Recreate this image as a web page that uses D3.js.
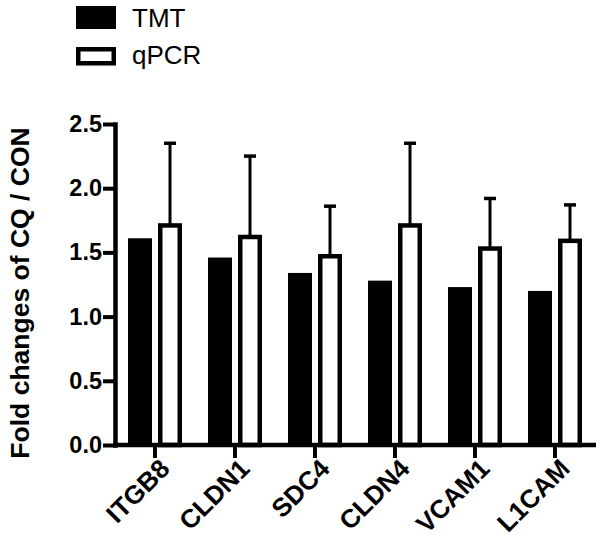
<!DOCTYPE html>
<html><head><meta charset="utf-8">
<script src="https://cdn.jsdelivr.net/npm/d3@7"></script>
<style>body{margin:0;background:#fff}svg{display:block}</style>
</head><body>
<script>
const categories = ["ITGB8","CLDN1","SDC4","CLDN4","VCAM1","L1CAM"];
const tmtValues = [1.61,1.46,1.34,1.28,1.23,1.20];
const qpcrValues = [1.71,1.62,1.47,1.71,1.53,1.59];
const qpcrErrors = [0.64,0.63,0.39,0.64,0.39,0.28];
const yTicks = [0,0.5,1.0,1.5,2.0,2.5];
const seriesNames = ["TMT","qPCR"];

const W=600,H=538;
const svg=d3.select("body").append("svg").attr("width",W).attr("height",H);
const font="'Liberation Sans', Arial, Helvetica, sans-serif";

const x=d3.scaleBand().domain(categories).range([115,595]).padding(0);
const y=d3.scaleLinear().domain([0,2.5]).range([445,124]);

// bars
const g=svg.append("g");
categories.forEach((c,i)=>{
  const cx=x(c)+x.bandwidth()/2;
  g.append("rect").attr("x",cx-27).attr("width",24)
    .attr("y",y(tmtValues[i])).attr("height",y(0)-y(tmtValues[i])).attr("fill","#000");
  g.append("line").attr("x1",cx+15).attr("x2",cx+15)
    .attr("y1",y(qpcrValues[i])).attr("y2",y(qpcrValues[i]+qpcrErrors[i]))
    .attr("stroke","#000").attr("stroke-width",3);
  g.append("line").attr("x1",cx+9).attr("x2",cx+21)
    .attr("y1",y(qpcrValues[i]+qpcrErrors[i])).attr("y2",y(qpcrValues[i]+qpcrErrors[i]))
    .attr("stroke","#000").attr("stroke-width",3.5);
  g.append("rect").attr("x",cx+5.25).attr("width",19.5)
    .attr("y",y(qpcrValues[i])).attr("height",y(0)-y(qpcrValues[i]))
    .attr("fill","#fff").attr("stroke","#000").attr("stroke-width",4.5);
});

// y axis
const ya=svg.append("g").attr("transform","translate(115,0)")
  .call(d3.axisLeft(y).tickValues(yTicks).tickFormat(d3.format(".1f")).tickSize(12).tickSizeOuter(0).tickPadding(1));
ya.select(".domain").attr("stroke-width",4.5).attr("stroke-linecap","square");
ya.selectAll(".tick line").attr("stroke-width",4);
ya.selectAll(".tick text").attr("font-family",font).attr("font-weight","bold").attr("font-size",23.5).attr("fill","#000");

// x axis
const xa=svg.append("g").attr("transform","translate(0,445)")
  .call(d3.axisBottom(x).tickSize(13).tickSizeOuter(0).tickFormat(""));
xa.select(".domain").attr("stroke-width",4.5).attr("d","M113,0H596");
xa.selectAll(".tick line").attr("stroke-width",4);
categories.forEach(c=>{
  const cx=x(c)+x.bandwidth()/2;
  svg.append("text").attr("transform",`translate(${cx+3},${457}) rotate(-45)`)
    .attr("text-anchor","end").attr("dy","0.72em")
    .attr("font-family",font).attr("font-weight","bold").attr("font-size",26).text(c);
});

// y title
svg.append("text").attr("transform","translate(29,293) rotate(-90)")
  .attr("text-anchor","middle").attr("font-family",font).attr("font-weight","bold")
  .attr("font-size",26.5).text("Fold changes of CQ / CON");

// legend
svg.append("rect").attr("x",76).attr("y",6).attr("width",40).attr("height",23).attr("fill","#000");
svg.append("rect").attr("x",78.25).attr("y",49.25).attr("width",35.5).attr("height",14).attr("fill","#fff").attr("stroke","#000").attr("stroke-width",4.5);
svg.append("text").attr("x",132).attr("y",27).attr("font-family",font).attr("font-size",26).text(seriesNames[0]);
svg.append("text").attr("x",132).attr("y",64).attr("font-family",font).attr("font-size",26).text(seriesNames[1]);
</script>
</body></html>
